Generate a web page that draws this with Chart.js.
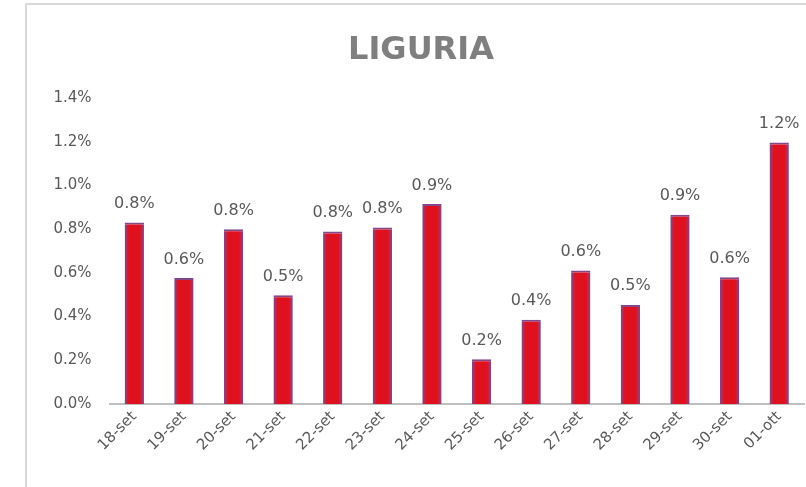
<!DOCTYPE html>
<html>
<head>
<meta charset="utf-8">
<script src="https://cdn.jsdelivr.net/npm/chart.js@4"></script>
<style>
  html, body { margin: 0; padding: 0; background: #fff; }
  #wrap { position: relative; width: 806px; height: 487px; overflow: hidden; }
  #frame { position: absolute; left: 25px; top: 3px; width: 900px; height: 600px;
           border-left: 2px solid #d9d9d9; border-top: 2px solid #d9d9d9; pointer-events: none; }
  canvas { position: absolute; left: 0; top: 0; }
</style>
</head>
<body>
<div id="wrap">
  <div id="frame"></div>
  <canvas id="chart" width="806" height="487"></canvas>
</div>
<script>
// Liguria - daily values (%)
const titleText = 'LIGURIA';
const days = ['18-set', '19-set', '20-set', '21-set', '22-set', '23-set', '24-set',
              '25-set', '26-set', '27-set', '28-set', '29-set', '30-set', '01-ott'];
const values = [0.83, 0.576, 0.80, 0.498, 0.789, 0.808, 0.915,
                0.205, 0.386, 0.611, 0.453, 0.866, 0.58, 1.196];
const yTicks = [0, 0.2, 0.4, 0.6, 0.8, 1.0, 1.2, 1.4];

const textGrey = '#595959';
const barRed = '#e0111f';
const barEdge = '#84478a';

// gradiente orizzontale per ogni barra (bordi violacei come in Excel)
function barFill(c) {
    const el = c.chart.getDatasetMeta(0).data[c.dataIndex];
    if (!el || !el.width) return barRed;
    const x0 = el.x - el.width / 2, x1 = el.x + el.width / 2;
    const g = c.chart.ctx.createLinearGradient(x0, 0, x1, 0);
    g.addColorStop(0, barEdge);
    g.addColorStop(0.22, barRed);
    g.addColorStop(0.78, barRed);
    g.addColorStop(1, barEdge);
    return g;
}

// titolo e etichette sopra le barre
const drawExtras = {
    id: 'drawExtras',
    afterDatasetsDraw(chart) {
        const ctx = chart.ctx;
        ctx.save();
        ctx.fillStyle = '#7f7f7f';
        ctx.font = 'bold 32px "DejaVu Sans"';
        ctx.textAlign = 'center';
        ctx.textBaseline = 'alphabetic';
        ctx.fillText(titleText, 421, 59);

        ctx.fillStyle = textGrey;
        ctx.font = '16px "DejaVu Sans"';
        const meta = chart.getDatasetMeta(0);
        meta.data.forEach((bar, i) => {
            ctx.fillText(values[i].toFixed(1) + '%', bar.x, bar.y - 14.5);
        });
        ctx.restore();
    }
};

const chart = new Chart(document.getElementById('chart'), {
    type: 'bar',
    data: {
        labels: days,
        datasets: [{
            data: values,
            backgroundColor: barFill,
            borderColor: barEdge,
            borderWidth: { top: 2, left: 0, right: 0, bottom: 0 },
            borderSkipped: false,
            categoryPercentage: 1,
            barPercentage: 0.39
        }]
    },
    options: {
        responsive: false,
        animation: false,
        layout: { padding: { top: 98, right: 2, left: 0, bottom: 0 } },
        plugins: { legend: { display: false }, tooltip: { enabled: false } },
        scales: {
            y: {
                min: 0, max: 1.4,
                afterBuildTicks: s => { s.ticks = yTicks.map(v => ({ value: v })); },
                afterFit: s => { s.width = 109.5; },
                grid: { display: false, drawTicks: false },
                border: { display: false },
                ticks: {
                    padding: 18,
                    color: textGrey,
                    font: { family: 'DejaVu Sans', size: 15 },
                    callback: v => v.toFixed(1) + '%'
                }
            },
            x: {
                afterFit: s => { s.height = 83; },
                grid: { display: false, drawTicks: false },
                border: { display: true, color: '#bfbfbf', width: 2 },
                ticks: {
                    autoSkip: false,
                    maxRotation: 45, minRotation: 45,
                    padding: 4,
                    color: textGrey,
                    font: { family: 'DejaVu Sans', size: 15 }
                }
            }
        }
    },
    plugins: [drawExtras]
});
// secondo update: ora le barre hanno posizione, per il gradiente
chart.update();
</script>
</body>
</html>
